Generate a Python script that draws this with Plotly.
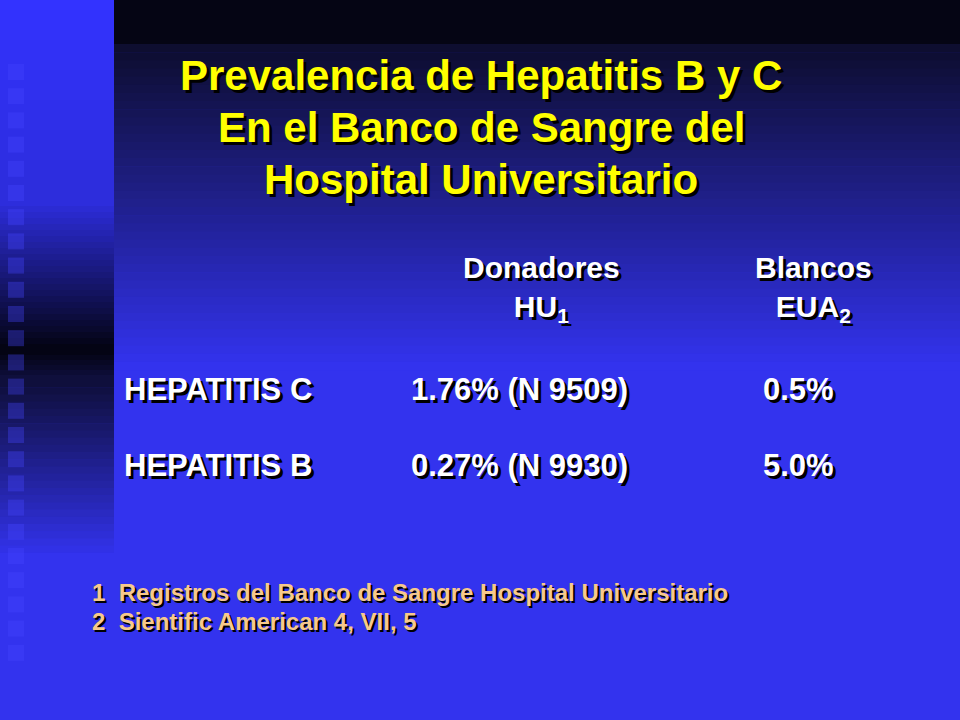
import plotly.graph_objects as go

title_lines = ["Prevalencia de Hepatitis B y C", "En el Banco de Sangre del", "Hospital Universitario"]
col_headers = ["Donadores<br>HU<sub>1</sub>", "Blancos<br>EUA<sub>2</sub>"]
rows = ["HEPATITIS C", "HEPATITIS B"]
donadores = ["1.76% (N 9509)", "0.27% (N 9930)"]
blancos = ["0.5%", "5.0%"]
footnotes = ["1  Registros del Banco de Sangre Hospital Universitario", "2  Sientific American 4, VII, 5"]

W, H = 960, 720
fig = go.Figure()
shapes = []

def lerp(c1, c2, t):
    return "rgb(%d,%d,%d)" % tuple(int(a + (b - a) * t) for a, b in zip(c1, c2))

def band(x0, x1, y0, y1, c1, c2, n=30):
    for i in range(n):
        t = i / (n - 1)
        ya = y0 + (y1 - y0) * i / n
        yb = y0 + (y1 - y0) * (i + 1) / n + 0.6
        shapes.append(dict(type="rect", x0=x0, x1=x1, y0=H - yb, y1=H - ya,
                           fillcolor=lerp(c1, c2, t), line_width=0, layer="below"))

blue = (51, 51, 238)
shapes.append(dict(type="rect", x0=114, x1=W, y0=0, y1=H, fillcolor="rgb(51,51,238)", line_width=0, layer="below"))
band(114, W, 0, 44, (5, 5, 20), (5, 5, 20), 2)
band(114, W, 44, 370, (14, 14, 48), blue, 40)
band(0, 114, 0, 200, (51, 51, 255), (45, 45, 220), 20)
band(0, 114, 200, 350, (45, 45, 220), (4, 4, 20), 25)
band(0, 114, 350, 380, (4, 4, 20), (15, 15, 60), 6)
band(0, 114, 380, 560, (15, 15, 60), blue, 25)
band(0, 114, 560, 720, blue, blue, 2)
for k in range(25):
    yc = 72 + k * 24.2
    shapes.append(dict(type="rect", x0=8, x1=24, y0=H - yc - 8, y1=H - yc + 8,
                       fillcolor="rgba(70,70,255,0.35)", line_width=0, layer="below"))

ann = []
def txt(x, y, s, size, color, xanchor="center", sh=3):
    f = "Liberation Sans, Arial, sans-serif"
    ann.append(dict(x=x + sh, y=H - y - sh, text="<b>%s</b>" % s, showarrow=False, xanchor=xanchor,
                    yanchor="middle", font=dict(family=f, size=size, color="black"), xref="x", yref="y"))
    ann.append(dict(x=x, y=H - y, text="<b>%s</b>" % s, showarrow=False, xanchor=xanchor,
                    yanchor="middle", font=dict(family=f, size=size, color=color), xref="x", yref="y"))

for i, line in enumerate(title_lines):
    txt(481, 75 + i * 52, line, 42, "#ffff00")
for x, h in zip([541, 813], col_headers):
    txt(x, 289, h, 30, "white")
for i in range(len(rows)):
    y = 389 + i * 76
    txt(122, y, rows[i], 31, "white", "left")
    txt(519, y, donadores[i], 31, "white")
    txt(798, y, blancos[i], 31, "white")
for i, f in enumerate(footnotes):
    txt(90, 592 + i * 29, f, 24, "#f7c98b", "left", 2)

fig.update_layout(width=W, height=H, margin=dict(l=0, r=0, t=0, b=0),
                  xaxis=dict(range=[0, W], visible=False, fixedrange=True),
                  yaxis=dict(range=[0, H], visible=False, fixedrange=True),
                  plot_bgcolor="rgb(51,51,238)", paper_bgcolor="rgb(51,51,238)",
                  shapes=shapes, annotations=ann, showlegend=False)
fig.write_html("out.html", config={"displayModeBar": False},
               post_script="document.body.style.margin='0';document.body.style.overflow='hidden';")
